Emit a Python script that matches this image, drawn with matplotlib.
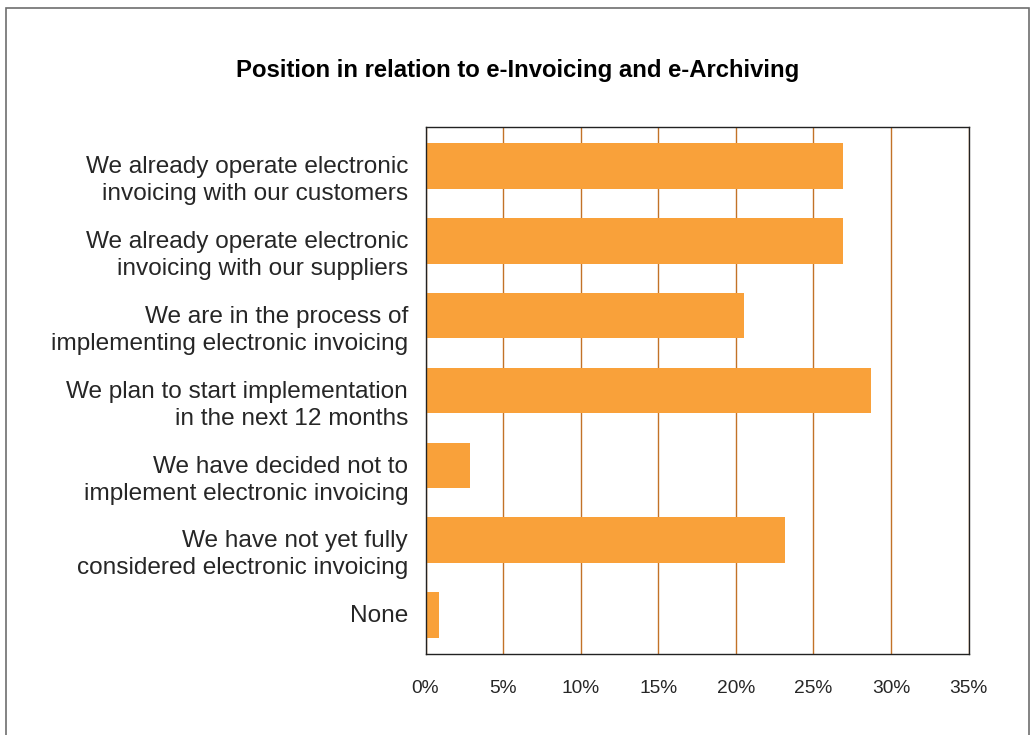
import matplotlib
matplotlib.use("Agg")
import matplotlib.pyplot as plt
from matplotlib.patches import Rectangle
from matplotlib.ticker import FuncFormatter

categories = [
    "We already operate electronic\ninvoicing with our customers",
    "We already operate electronic\ninvoicing with our suppliers",
    "We are in the process of\nimplementing electronic invoicing",
    "We plan to start implementation\nin the next 12 months",
    "We have decided not to\nimplement electronic invoicing",
    "We have not yet fully\nconsidered electronic invoicing",
    "None",
]
values = [26.9, 26.9, 20.5, 28.7, 2.9, 23.2, 0.9]
xticks = [0, 5, 10, 15, 20, 25, 30, 35]
title = "Position in relation to e-Invoicing and e-Archiving"

plt.rcParams["font.family"] = ["Liberation Sans", "DejaVu Sans"]

W, H = 1030, 735
fig = plt.figure(figsize=(W / 100, H / 100), dpi=100)
fig.patch.set_facecolor("white")

# outer frame
fig.add_artist(Rectangle((6 / W, -0.05), (1029 - 6) / W, 1.05 - 8 / H,
                         transform=fig.transFigure, fill=False,
                         edgecolor="#6e6e6e", linewidth=1.2))

ax = fig.add_axes([425.5 / W, 1 - 654 / H, (968.5 - 425.5) / W, (654 - 127) / H])

ypos = list(range(len(categories)))
ax.barh(ypos, values, height=0.61, color="#F9A13A", zorder=3)
ax.set_ylim(len(categories) - 0.5 + 0.02, -0.5 - 0.02)
ax.set_xlim(0, 35)

ax.set_xticks(xticks)
ax.xaxis.set_major_formatter(FuncFormatter(lambda v, p: f"{v:.0f}%"))
ax.tick_params(axis="x", length=0, pad=19, labelsize=13.8, labelcolor="#262626")

# category labels: first line centred on its bar, further lines hang below
ax.set_yticks(ypos)
ax.set_yticklabels([])
ax.tick_params(axis="y", length=0)
for y, label in zip(ypos, categories):
    ax.annotate(label, xy=(0, y), xycoords=("axes fraction", "data"),
                xytext=(-12.5, 7.0), textcoords="offset points",
                ha="right", va="top", multialignment="right",
                fontsize=17.6, color="#262626", linespacing=1.29,
                annotation_clip=False)

ax.grid(axis="x", color="#c27228", linewidth=1.0, zorder=1)
ax.grid(axis="y", visible=False)
for s in ax.spines.values():
    s.set_color("#222222")
    s.set_linewidth(1.0)
    s.set_zorder(4)

fig.text(518 / W, 1 - 70 / H, title, ha="center", va="center",
         fontsize=17.2, fontweight="bold", color="black")

fig.savefig("out.png", dpi=100)
